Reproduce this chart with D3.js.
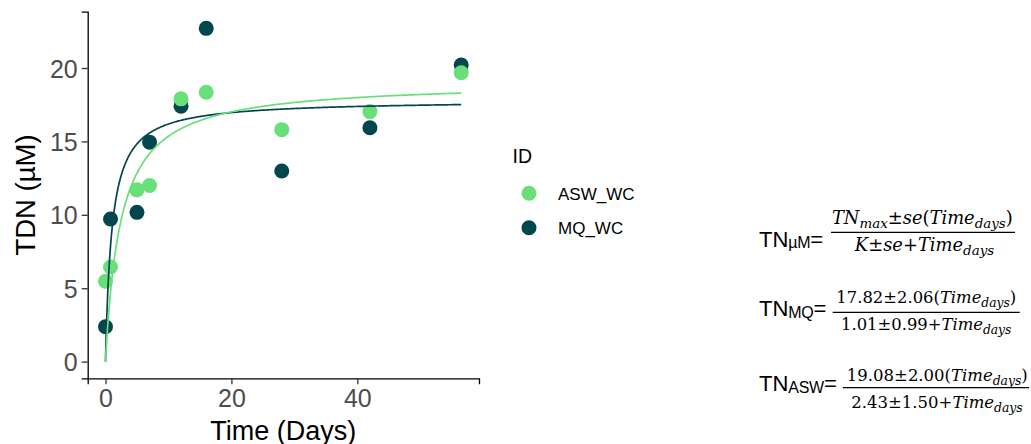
<!DOCTYPE html>
<html>
<head>
<meta charset="utf-8">
<script src="https://cdn.jsdelivr.net/npm/d3@7"></script>
<style>
  html, body { margin: 0; padding: 0; background: #fff; }
  svg { display: block; }
</style>
</head>
<body>
<svg id="chart" width="1031" height="444"></svg>
<script>
// ---- data ----
const seriesIds = ["ASW_WC", "MQ_WC"];
const seriesColors = ["#69DF79", "#02464E"];
const timeDays = [0, 0.8, 5, 7, 12, 16, 28, 42, 56.5];
const tdnASW = [5.48, 6.45, 11.7, 12.0, 17.9, 18.35, 15.8, 17.03, 19.68];
const tdnMQ  = [2.38, 9.72, 10.17, 14.95, 17.4, 22.7, 12.98, 15.93, 20.2];
const fitTNmax = [19.08, 17.82];   // ASW, MQ (from equations)
const fitK = [2.43, 1.01];
const xTicks = [0, 20, 40];
const yTicks = [0, 5, 10, 15, 20];

const svg = d3.select("#chart");
const margin = { left: 87.7, right: 479, top: 11.7, bottom: 378.3 };

const tMax = d3.max(timeDays);
const x = d3.scaleLinear().domain([-0.05 * tMax, tMax * 1.05]).range([margin.left, margin.right]);
const yMax = d3.max(tdnMQ.concat(tdnASW));
const y = d3.scaleLinear().domain([-0.05 * yMax, yMax * 1.05]).range([margin.bottom, margin.top]);

// axes
const xAxis = svg.append("g").attr("transform", `translate(0,${margin.bottom})`)
  .call(d3.axisBottom(x).tickValues(xTicks).tickSize(6).tickPadding(5).tickFormat(d3.format("d")));
const yAxis = svg.append("g").attr("transform", `translate(${margin.left},0)`)
  .call(d3.axisLeft(y).tickValues(yTicks).tickSize(6).tickPadding(4).tickFormat(d3.format("d")));
[xAxis, yAxis].forEach(a => {
  a.select(".domain").attr("stroke", "#000").attr("stroke-width", 1.3);
  a.selectAll(".tick line").attr("stroke", "#333").attr("stroke-width", 1.3);
  a.selectAll(".tick text").attr("fill", "#4D4D4D").style("font-family", "'Liberation Sans', Arial, sans-serif").style("font-size", "25px");
});
xAxis.selectAll(".tick text").attr("dy", "0.71em");
yAxis.selectAll(".tick text").attr("dy", "0.36em");

// axis titles
svg.append("text").attr("x", (margin.left + margin.right) / 2).attr("y", 439.5)
  .attr("text-anchor", "middle").style("font-family", "'Liberation Sans', Arial, sans-serif")
  .style("font-size", "27px").attr("fill", "#000").text("Time (Days)");
svg.append("text").attr("transform", `translate(35,${(margin.top + margin.bottom) / 2}) rotate(-90)`)
  .attr("text-anchor", "middle").style("font-family", "'Liberation Sans', Arial, sans-serif")
  .style("font-size", "27.5px").attr("fill", "#000").text("TDN (µM)");

// points: MQ first, ASW on top
const seriesVals = [tdnASW, tdnMQ];
[1, 0].forEach(si => {
  svg.append("g").selectAll("circle").data(timeDays.map((t, i) => ({ t, v: seriesVals[si][i] })))
    .join("circle").attr("cx", d => x(d.t)).attr("cy", d => y(d.v)).attr("r", 7.5)
    .attr("fill", seriesColors[si]);
});

// fitted curves
const curveT = d3.range(0, 400).map(i => tMax * Math.pow(i / 399, 2));
const line = d3.line().x(d => x(d[0])).y(d => y(d[1]));
[1, 0].forEach(si => {
  svg.append("path").datum(curveT.map(t => [t, fitTNmax[si] * t / (fitK[si] + t)]))
    .attr("d", line).attr("fill", "none").attr("stroke", seriesColors[si]).attr("stroke-width", 1.7);
});

// legend
const sans = "'Liberation Sans', Arial, sans-serif";
svg.append("text").attr("x", 512.5).attr("y", 163.3).style("font-family", sans).style("font-size", "19.5px").text("ID");
seriesIds.forEach((id, i) => {
  const cy = 193.3 + i * 34.5;
  svg.append("circle").attr("cx", 529).attr("cy", cy).attr("r", 7.5).attr("fill", seriesColors[i]);
  svg.append("text").attr("x", 558).attr("y", cy + 6.3).style("font-family", sans).style("font-size", "17px").text(id);
});

// equations
const serif = "'DejaVu Serif', 'Liberation Serif', serif";
const equations = [
  { sub: "µM", base: 246.7, barX: 831, barW: 184, barY: 232.3, numY: 224, denY: 250.7, numW: 181, numCx: 922.3, denCx: 924.5,
    num: [["TN", 1, 0], ["max", 1, 1], ["±", 0, 0], ["se", 1, 0], ["(", 0, 0], ["Time", 1, 0], ["days", 1, 1], [")", 0, 0]],
    den: [["K", 1, 0], ["±", 0, 0], ["se", 1, 0], ["+", 0, 0], ["Time", 1, 0], ["days", 1, 1]] },
  { sub: "MQ", base: 316, barX: 832.7, barW: 187, barY: 312.3, numY: 303, denY: 330, numW: 180, numCx: 926.3, denCx: 926.2,
    num: [["17.82", 0, 0], ["±", 0, 0], ["2.06", 0, 0], ["(", 0, 0], ["Time", 1, 0], ["days", 1, 1], [")", 0, 0]],
    den: [["1.01", 0, 0], ["±", 0, 0], ["0.99", 0, 0], ["+", 0, 0], ["Time", 1, 0], ["days", 1, 1]] },
  { sub: "ASW", base: 391, barX: 843, barW: 186, barY: 387.7, numY: 381, denY: 408, numW: 181, numCx: 937.3, denCx: 937,
    num: [["19.08", 0, 0], ["±", 0, 0], ["2.00", 0, 0], ["(", 0, 0], ["Time", 1, 0], ["days", 1, 1], [")", 0, 0]],
    den: [["2.43", 0, 0], ["±", 0, 0], ["1.50", 0, 0], ["+", 0, 0], ["Time", 1, 0], ["days", 1, 1]] }
];
equations.forEach(eq => {
  const lbl = svg.append("text").attr("x", 759).attr("y", eq.base).style("font-family", sans).style("font-size", "22px").attr("fill", "#000");
  lbl.append("tspan").text("TN");
  lbl.append("tspan").attr("dy", 1.5).style("font-size", "16px").style("letter-spacing", "-0.3px").text(eq.sub);
  lbl.append("tspan").attr("dy", -1.5).text("=");
  svg.append("line").attr("x1", eq.barX).attr("x2", eq.barX + eq.barW).attr("y1", eq.barY).attr("y2", eq.barY)
    .attr("stroke", "#000").attr("stroke-width", 1.2);
  const rows = [];
  [[eq.num, eq.numY, eq.numCx], [eq.den, eq.denY, eq.denCx]].forEach(([parts, yy, cx]) => {
    const t = svg.append("text").attr("x", cx).attr("y", yy).attr("text-anchor", "middle")
      .style("font-family", serif).style("font-size", "15px").attr("fill", "#000");
    let shifted = false;
    parts.forEach(p => {
      const ts = t.append("tspan").text(p[0]).style("font-style", p[1] ? "italic" : "normal");
      if (p[2]) ts.style("font-size", "0.75em");
      if (p[2] && !shifted) { ts.attr("dy", 4); shifted = true; }
      else if (!p[2] && shifted) { ts.attr("dy", -4); shifted = false; }
    });
    rows.push(t);
  });
  // fit numerator width to the reference; use same size for denominator
  const w = rows[0].node().getComputedTextLength();
  const fs = 15 * eq.numW / w;
  rows.forEach(r => r.style("font-size", fs + "px"));
});
</script>
</body>
</html>
